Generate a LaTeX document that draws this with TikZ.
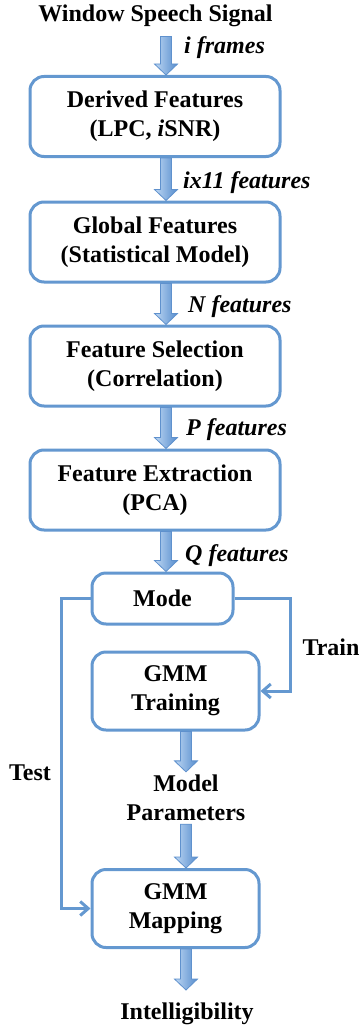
\documentclass[tikz,border=0pt]{standalone}
\usepackage{fontspec}
\setmainfont{Liberation Serif}
\usetikzlibrary{arrows.meta,calc}
\definecolor{boxblue}{RGB}{100,152,208}
\definecolor{arrlight}{RGB}{190,215,243}
\definecolor{arrdark}{RGB}{85,140,205}
\definecolor{arredge}{RGB}{95,145,205}
\newcommand\fatarrow[2]{%
  \path[fatarrowstyle] let \p1=(#1), \p2=(#2) in
   (\x1-5.5pt,\y1) -- (\x1+5.5pt,\y1) -- (\x1+5.5pt,\y2+11pt) -- (\x1+11.5pt,\y2+11pt)
   -- (\x1,\y2) -- (\x1-11.5pt,\y2+11pt) -- (\x1-5.5pt,\y2+11pt) -- cycle;}
\tikzset{
  every node/.style={font=\fontsize{24}{29}\selectfont\bfseries},
  procbox/.style={draw=boxblue, line width=3pt, rounded corners=14pt, fill=white,
    align=center, inner sep=0pt},
  widebox/.style={procbox, minimum width=250pt, minimum height=80pt},
  gmmbox/.style={procbox, minimum width=167pt, minimum height=78pt},
  plain/.style={align=center, inner sep=0pt},
  lbl/.style={anchor=west, inner sep=0pt, font=\fontsize{24}{29}\selectfont\bfseries\itshape},
  fatarrowstyle/.style={left color=arrlight, right color=arrdark, draw=arredge, line width=0.8pt},
  conn/.style={draw=boxblue, line width=3pt, -{Straight Barb[length=8pt,width=14pt,line width=3pt]}},
}
\begin{document}
\begin{tikzpicture}[x=1pt,y=-1pt]
\useasboundingbox[fill=white] (0,0) rectangle (360,1030);
% helper x positions
\coordinate (ax) at (166,0);
\coordinate (bx) at (186,0);
\coordinate (tx) at (61,750);
\coordinate (rx) at (290,650);
% nodes
\node[plain, anchor=base] (title) at (155.5,22) {Window Speech Signal};
\node[widebox] (derived) at (155,116.5) {Derived Features\\(LPC, \textit{i}SNR)};
\node[widebox] (global) at (155,242) {Global Features\\(Statistical Model)};
\node[widebox] (select) at (155,366) {Feature Selection\\(Correlation)};
\node[widebox] (extract) at (155,490) {Feature Extraction\\(PCA)};
\node[procbox, minimum width=141pt, minimum height=51pt] (mode) at (162.5,598.5) {Mode};
\node[gmmbox] (training) at (175.5,691) {GMM\\Training};
\node[plain, inner ysep=3pt] (params) at (186,798) {Model\\Parameters};
\node[gmmbox] (mapping) at (175.5,908.5) {GMM\\Mapping};
\node[plain, anchor=north] (intel) at (187,1003) {Intelligibility};
% labels
\node[lbl] (l1) at (184,48) {i frames};
\node[lbl] (l2) at (183,183) {ix11 features};
\node[lbl] (l3) at (188,307) {N features};
\node[lbl] (l4) at (186,430) {P features};
\node[lbl] (l5) at (185,556) {Q features};
\node[plain] (train) at (331,647) {Train};
\node[plain] (test) at (30,773) {Test};
% fat arrows
\fatarrow{[yshift=-9pt]title.south -| ax}{derived.north -| ax}
\fatarrow{derived.south -| ax}{global.north -| ax}
\fatarrow{global.south -| ax}{select.north -| ax}
\fatarrow{select.south -| ax}{extract.north -| ax}
\fatarrow{extract.south -| ax}{mode.north -| ax}
\fatarrow{training.south -| bx}{params.north -| bx}
\fatarrow{params.south -| bx}{mapping.north -| bx}
\fatarrow{mapping.south -| bx}{[yshift=13pt]intel.north -| bx}
% mode connectors
\draw[conn] (mode.west) -| (tx) |- (mapping.west);
\draw[conn] (mode.east) -| (rx) |- (training.east);
\end{tikzpicture}
\end{document}
